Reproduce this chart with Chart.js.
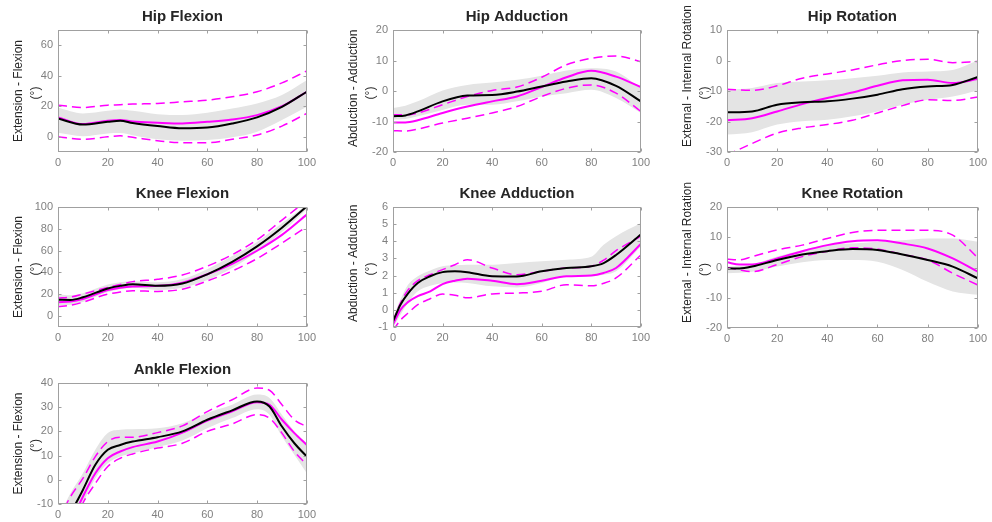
<!DOCTYPE html>
<html><head><meta charset="utf-8">
<script src="https://cdn.jsdelivr.net/npm/chart.js@4.4.1/dist/chart.umd.min.js"></script>
<style>
html,body{margin:0;padding:0;background:#fff;width:992px;height:522px;overflow:hidden;position:relative}
canvas{position:absolute}
</style></head><body>
<script>
// ---------- DATA ----------
const titles = ['Hip Flexion','Hip Adduction','Hip Rotation','Knee Flexion','Knee Adduction','Knee Rotation','Ankle Flexion'];
const yLabels = ['Extension - Flexion','Abduction - Adduction','External - Internal Rotation','Extension - Flexion','Abduction - Adduction','External - Internal Rotation','Extension - Flexion'];
const yMins = [-10,-20,-30,-10,-1,-20,-10];
const yMaxs = [70,20,10,100,6,20,40];
const yTicks = [
  [0,20,40,60],
  [-20,-10,0,10,20],
  [-30,-20,-10,0,10],
  [0,20,40,60,80,100],
  [-1,0,1,2,3,4,5,6],
  [-20,-10,0,10,20],
  [-10,0,10,20,30,40]
];
const xTicks = [0,20,40,60,80,100];

// Hip Flexion
const hipFlexX      = [0,10,20,25,30,40,50,60,70,80,90,100];
const hipFlexBlack  = [12,8,9.8,10.5,9,7,5.5,6,8.7,12.7,19.6,29.5];
const hipFlexMag    = [12.7,8.3,10.5,11,10,9.2,8.7,9.8,11.3,14.2,20,29.5];
const hipFlexUp     = [20.7,19.2,20.7,21,21.4,21.8,22.9,24,26.2,29.5,35.3,43.2];
const hipFlexLo     = [0,-1.7,0,0.6,-0.4,-2.6,-3.9,-3.9,-1.7,1.1,7,15.3];
const hipFlexBandUp = [19,15.3,17,17.9,17,14.8,14.2,15.7,18.5,21.8,27.3,37];
const hipFlexBandLo = [2.6,0.4,2.2,2.5,1,-1.7,-2.6,-2.2,-0.4,3.3,11,19.6];

// Hip Adduction
const hipAddX      = [0,5,10,20,30,40,50,60,70,80,90,100];
const hipAddBlack  = [-8.3,-8,-6.7,-3.4,-1.5,-1.3,-0.2,1.5,3.1,4.2,1.7,-3.4];
const hipAddMag    = [-10.3,-10.3,-9.6,-7.2,-5.1,-3.4,-1.8,1.3,4.5,6.6,4.7,1.3];
const hipAddUp     = [-7.8,-7.8,-7.2,-4.5,-1.8,0.2,1.3,4.5,8.6,10.7,11.5,9.6];
const hipAddLo     = [-13,-13.1,-12.5,-10.5,-8.9,-7.2,-5.1,-1.8,0.9,2,-0.7,-6.7];
const hipAddBandUp = [-5.6,-4.8,-3.4,0.2,2,2.8,3.7,5,6.7,7.5,6.4,0.9];
const hipAddBandLo = [-9.4,-9.2,-8.3,-6.2,-4.5,-4.5,-3.4,-1.8,-0.7,0.4,-2.3,-7.2];

// Hip Rotation
const hipRotX      = [0,10,20,30,40,50,60,70,80,90,100];
const hipRotBlack  = [-17,-16.7,-14.5,-13.7,-13.4,-12.5,-11.2,-9.4,-8.5,-8,-5.4];
const hipRotMag    = [-19.6,-18.9,-16.7,-14.3,-12.3,-10.5,-8.3,-6.5,-6.3,-7.4,-6.1];
const hipRotUp     = [-9.4,-9.8,-8.3,-5.8,-4.4,-3.1,-1.4,0,0.4,-0.7,-0.3];
const hipRotLo     = [-31,-27.2,-23.8,-22.1,-21,-19.6,-17.2,-14.8,-12.9,-13.1,-12];
const hipRotBandUp = [-9.6,-9,-7.4,-6.9,-6.5,-5.8,-5,-3.9,-3.6,-3.1,0];
const hipRotBandLo = [-24.3,-23.5,-21,-19.9,-19.4,-18.3,-16.7,-14.5,-12.9,-11.8,-9.8];

// Knee Flexion
const kneeFlexX      = [0,5,10,20,25,30,40,50,60,70,80,90,100];
const kneeFlexBlack  = [15,14.8,17.2,25.3,27.7,29.2,27.7,29.8,38.3,49.7,63.9,81,100.6];
const kneeFlexMag    = [12.7,13.3,15.7,23.8,26,27.1,27.7,30.7,38.3,47.9,59.9,74.4,93];
const kneeFlexUp     = [16.6,17.5,20.2,26.2,29,31.6,33.7,37.7,45.8,56.3,69.9,88,106];
const kneeFlexLo     = [8.7,10,12.7,20.2,22,23.2,22.6,24.7,32.2,41.3,52.7,66.9,81.9];
const kneeFlexBandUp = [20,19,21,29,31,32,31,34,43,55,68,85,102];
const kneeFlexBandLo = [10,10.5,13,22,24.5,26,24,26,33,44,59,77,98];

// Knee Adduction
const kneeAddX      = [0,3,6,10,15,20,25,30,40,50,60,70,80,85,90,100];
const kneeAddBlack  = [-0.67,0.3,0.95,1.57,1.96,2.2,2.25,2.2,1.96,1.95,2.25,2.44,2.54,2.73,3.2,4.4];
const kneeAddMag    = [-0.86,0.0,0.45,0.8,1.08,1.5,1.7,1.82,1.7,1.5,1.7,1.96,2.0,2.15,2.44,3.84];
const kneeAddUp     = [-0.67,0.4,1.15,1.7,2.05,2.35,2.63,2.93,2.44,2.05,2.25,2.44,2.54,2.9,3.45,4.3];
const kneeAddLo     = [-1.2,-0.6,-0.2,0.3,0.65,0.92,0.85,0.7,0.93,0.98,1.08,1.47,1.4,1.55,1.86,3.2];
const kneeAddBandUp = [-0.47,0.6,1.45,1.96,2.3,2.54,2.6,2.63,2.63,2.73,2.83,2.93,3.1,3.8,4.3,5.06];
const kneeAddBandLo = [-1.06,-0.3,0.4,1.08,1.4,1.57,1.6,1.57,1.37,1.31,1.57,1.96,1.96,2.05,2.25,3.7];

// Knee Rotation
const kneeRotX      = [0,5,10,20,30,40,50,60,70,80,90,100];
const kneeRotBlack  = [-0.3,-0.3,0.3,2.5,4.3,5.4,6.1,5.8,4.3,2.5,0.3,-3.6];
const kneeRotMag    = [1.7,1,1,3,5.4,7.4,8.7,9,7.9,6.3,3,-1.4];
const kneeRotUp     = [2.8,2.5,3.6,5.8,7.4,9.6,11.6,12.3,12.3,12.3,10.7,3.2];
const kneeRotLo     = [0,-0.8,-1.4,1,3.6,5.4,6.5,6.1,4.3,2.5,-1.9,-5.8];
const kneeRotBandUp = [0.3,0.5,1,3.6,5.8,7.4,7.9,8.5,9,9.6,9.6,8.5];
const kneeRotBandLo = [-1.9,-1.7,-1.4,0.3,1.7,2.5,2.5,1.9,-0.8,-4.7,-7.9,-9];

// Ankle Flexion
const ankleX      = [0,5,10,15,20,25,30,40,50,60,70,80,85,90,95,100];
const ankleBlack  = [-24,-14,-4.2,6.2,12.4,14.4,15.8,17.6,20,24.8,28.7,32.4,30.3,22,15.1,9.6];
const ankleMag    = [-28,-18,-7,2.7,8.9,11.7,13.5,15.8,19.5,24.5,28.3,32,31,24.8,19.3,14.4];
const ankleUp     = [-17,-7,0.6,9.6,15.8,17.6,17.6,19.5,22.3,28.2,33.1,37.9,37,31,24.8,22];
const ankleLo     = [-32,-22,-9.7,-1.5,5.5,8.9,10.7,13.1,15.1,20,23.1,26.9,25.5,19.3,11.7,6.2];
const ankleBandUp = [-16,-5.6,2.7,12.4,19.3,20.7,20.9,21.3,23.4,27.6,31,35.2,33.8,26.9,20,15.1];
const ankleBandLo = [-30,-20,-9.7,0.6,6.8,9.6,11,13.5,16.2,21.3,25.5,29.2,26.9,17.9,10.3,2.7];

// ---------- LAYOUT ----------
const FONT = "'Liberation Sans', Arial, Helvetica, sans-serif";
const boxes = [[58,30,312,152],[393,30,646,152],[727,30,983,152],
               [58,207,312,327],[393,207,646,327],[727,207,983,328],
               [58,383,312,504]];
const series = [
  [hipFlexX,hipFlexBlack,hipFlexMag,hipFlexUp,hipFlexLo,hipFlexBandUp,hipFlexBandLo],
  [hipAddX,hipAddBlack,hipAddMag,hipAddUp,hipAddLo,hipAddBandUp,hipAddBandLo],
  [hipRotX,hipRotBlack,hipRotMag,hipRotUp,hipRotLo,hipRotBandUp,hipRotBandLo],
  [kneeFlexX,kneeFlexBlack,kneeFlexMag,kneeFlexUp,kneeFlexLo,kneeFlexBandUp,kneeFlexBandLo],
  [kneeAddX,kneeAddBlack,kneeAddMag,kneeAddUp,kneeAddLo,kneeAddBandUp,kneeAddBandLo],
  [kneeRotX,kneeRotBlack,kneeRotMag,kneeRotUp,kneeRotLo,kneeRotBandUp,kneeRotBandLo],
  [ankleX,ankleBlack,ankleMag,ankleUp,ankleLo,ankleBandUp,ankleBandLo]
];

function framePlugin(label){
  return {id:'frame', afterDraw(chart){
    const ctx = chart.ctx, a = chart.chartArea, xs = chart.scales.x, ys = chart.scales.y;
    ctx.save();
    ctx.strokeStyle = '#a0a0a0'; ctx.lineWidth = 1;
    const L = Math.round(a.left)+0.5, T = Math.round(a.top)+0.5, R = Math.round(a.right)-0.5, B = Math.round(a.bottom)-0.5;
    ctx.strokeRect(L, T, R-L, B-T);
    ctx.beginPath();
    xs.ticks.forEach(t => { const px = Math.round(xs.getPixelForValue(t.value))+0.5;
      ctx.moveTo(px,B); ctx.lineTo(px,B-3); ctx.moveTo(px,T); ctx.lineTo(px,T+3); });
    ys.ticks.forEach(t => { const py = Math.round(ys.getPixelForValue(t.value))+0.5;
      ctx.moveTo(L,py); ctx.lineTo(L+3,py); ctx.moveTo(R,py); ctx.lineTo(R-3,py); });
    ctx.stroke();
    ctx.fillStyle = '#262626'; ctx.font = '12px ' + FONT; ctx.textBaseline = 'middle';
    const lw = ctx.measureText(label).width;
    const h = a.bottom - a.top;
    const start = Math.min(a.bottom - 5, (a.top + a.bottom)/2 + lw/2);
    ctx.save(); ctx.translate(a.left-39, start); ctx.rotate(-Math.PI/2);
    ctx.textAlign = 'left'; ctx.fillText(label, 0, 0, h + 20); ctx.restore();
    ctx.save(); ctx.translate(a.left-22, (a.top+a.bottom)/2+2); ctx.rotate(-Math.PI/2);
    ctx.textAlign = 'center'; ctx.fillText('(°)', 0, 0); ctx.restore();
    ctx.restore();
  }};
}

titles.forEach((title, i) => {
  const [x0,y0,x1,y1] = boxes[i];
  const [X, blk, mag, up, lo, bu, bl] = series[i];
  const W = (x1-x0) + 58 + 8, H = (y1-y0) + 30 + 22;
  const c = document.createElement('canvas');
  c.width = W; c.height = H;
  c.style.left = (x0-58)+'px'; c.style.top = (y0-30)+'px';
  c.style.width = W+'px'; c.style.height = H+'px';
  document.body.appendChild(c);
  const pts = arr => X.map((v,k) => ({x:v, y:arr[k]}));
  const dash = {borderColor:'#ff00ff', borderWidth:1.5, borderDash:[9,5], fill:false};
  new Chart(c, {
    type:'line',
    data:{datasets:[
      {data:pts(blk), borderColor:'#000000', borderWidth:2, fill:false},
      {data:pts(mag), borderColor:'#ff00ff', borderWidth:2, fill:false},
      Object.assign({data:pts(up)}, dash),
      Object.assign({data:pts(lo)}, dash),
      {data:pts(bu), borderWidth:0, borderColor:'rgba(0,0,0,0)', backgroundColor:'#e4e4e4', fill:'+1'},
      {data:pts(bl), borderWidth:0, borderColor:'rgba(0,0,0,0)', fill:false}
    ]},
    options:{
      responsive:false, animation:false, events:[],
      layout:{padding:{left:0,right:8,top:0,bottom:0}},
      elements:{point:{radius:0}, line:{cubicInterpolationMode:'monotone'}},
      plugins:{
        legend:{display:false}, tooltip:{enabled:false},
        title:{display:true, text:title, fullSize:false, color:'#262626',
               font:{family:FONT, size:15, weight:'bold', lineHeight:1.2}, padding:{top:8,bottom:4}}
      },
      scales:{
        x:{type:'linear', min:0, max:100,
           grid:{display:false, drawTicks:false}, border:{display:false},
           ticks:{color:'#808080', font:{family:FONT,size:11}, padding:4, maxRotation:0},
           afterBuildTicks(s){ s.ticks = xTicks.map(v => ({value:v})); },
           afterFit(s){ s.height = 22; }},
        y:{type:'linear', min:yMins[i], max:yMaxs[i],
           grid:{display:false, drawTicks:false}, border:{display:false},
           ticks:{color:'#808080', font:{family:FONT,size:11}, padding:5},
           afterBuildTicks(s){ s.ticks = yTicks[i].map(v => ({value:v})); },
           afterFit(s){ s.width = 58; }}
      }
    },
    plugins:[framePlugin(yLabels[i])]
  });
});
</script>
</body></html>
